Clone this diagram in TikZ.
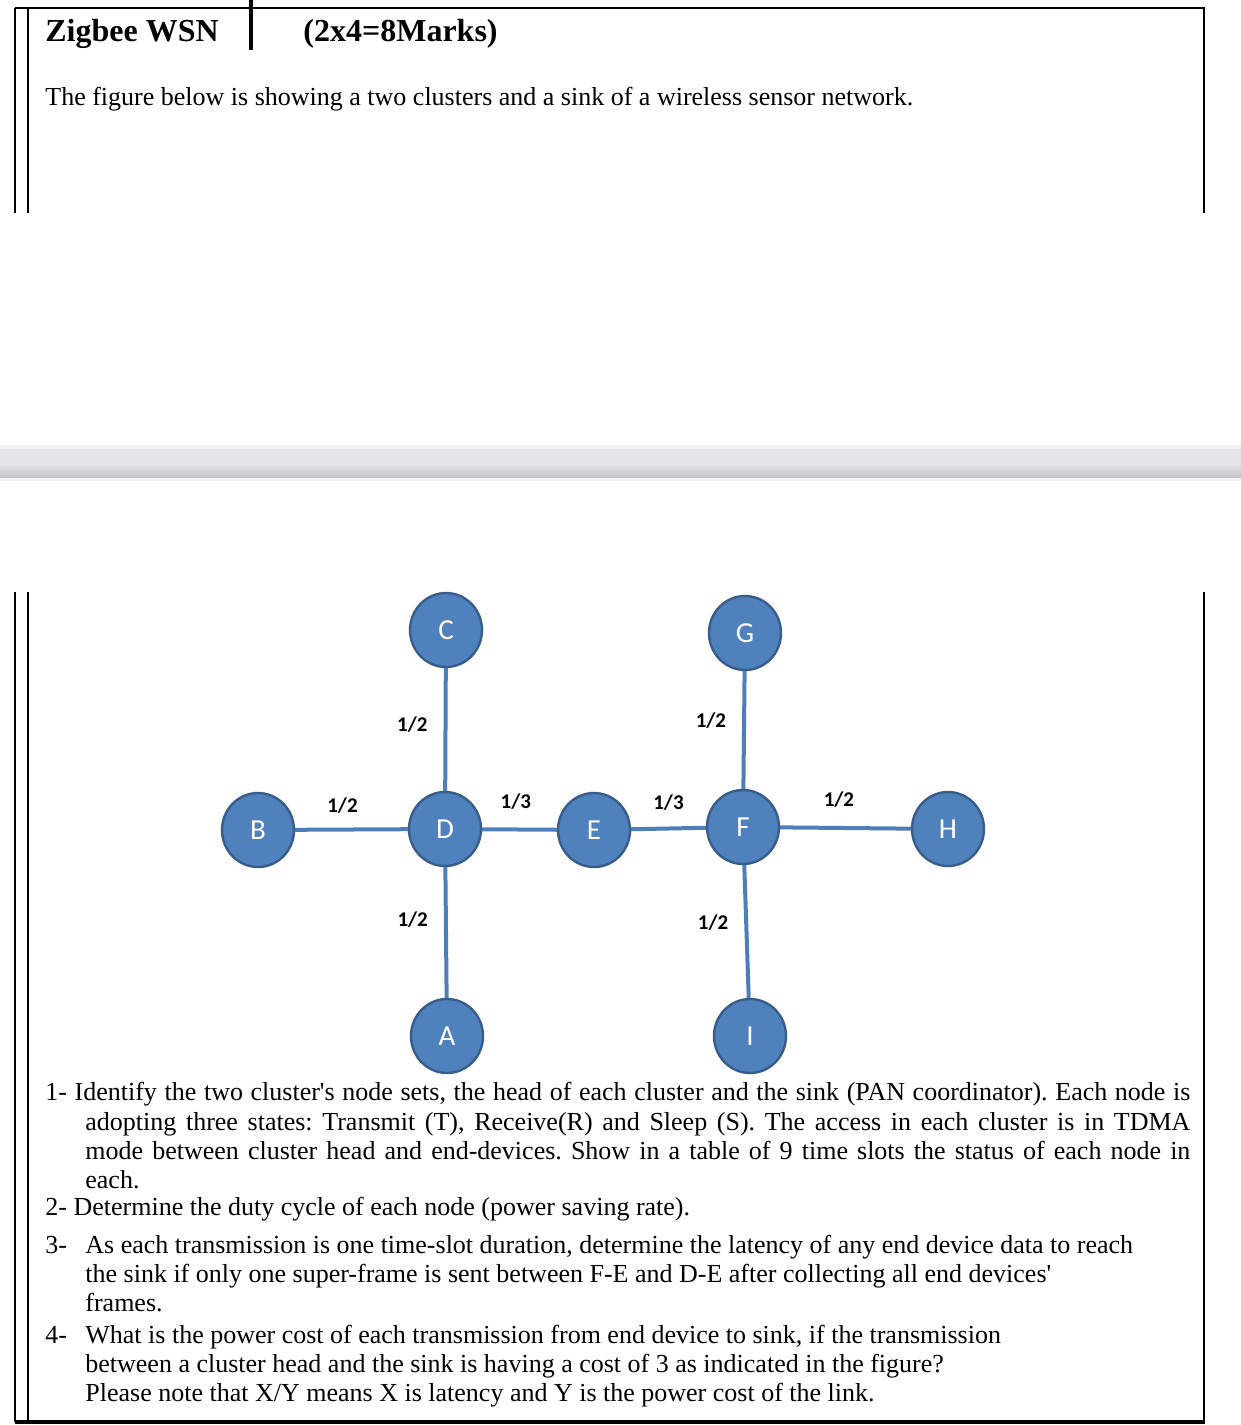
\documentclass[tikz,border=0pt]{standalone}
\usepackage{fontspec}
\setmainfont{Liberation Serif}[Ligatures=TeXOff]
\newfontfamily\labelfont{Carlito}
\usetikzlibrary{shapes.geometric}
\frenchspacing

\definecolor{moteblue}{RGB}{79,129,189}
\definecolor{moteedge}{RGB}{56,93,138}
\definecolor{linkblue}{RGB}{79,125,186}
\definecolor{bandgray}{RGB}{229,229,233}
\definecolor{banddark}{RGB}{198,198,202}
\definecolor{bandedge}{RGB}{242,242,242}

\begin{document}
\begin{tikzpicture}[
    x=0.5pt, y=-0.5pt,
    mote/.style={ellipse, draw=moteedge, line width=1.2pt, fill=moteblue, minimum width=36pt, minimum height=37pt, inner sep=0pt, text=white, font=\labelfont\fontsize{14.5}{14.5}\selectfont},
    link/.style={draw=linkblue, line width=2pt},
    cost/.style={font=\labelfont\bfseries\fontsize{10.5}{10.5}\selectfont, inner sep=0pt},
    pageline/.style={line width=1pt, black},
    qline/.style={anchor=base west, inner sep=0pt, font=\fontsize{13}{15}\selectfont}
]
\useasboundingbox[fill=white] (0,0) rectangle (1241,1425);

% upper page
\draw[pageline] (15,8) -- (15,213);
\draw[pageline] (28,8) -- (28,213);
\draw[pageline] (15,8) -- (1204,8) -- (1204,213);
\draw[line width=2pt] (251,0) -- (251,50);
\node[anchor=base west, inner sep=0pt, font=\bfseries\fontsize{16}{16}\selectfont] (title) at (45,41) {Zigbee WSN};
\node[anchor=base west, inner sep=0pt, font=\bfseries\fontsize{16}{16}\selectfont] (marks) at (303,41) {(2x4=8Marks)};
\node[qline] (intro) at (45,105) {The figure below is showing a two clusters and a sink of a wireless sensor network.};

% gap between the pages
\fill[bandedge] (0,445) rectangle (1241,481);
\shade[top color=bandgray, bottom color=banddark, middle color=bandgray] (0,449) rectangle (1241,477);

% lower page
\draw[pageline] (15,592) -- (15,1422);
\draw[pageline] (28,592) -- (28,1422);
\draw[pageline] (1204,592) -- (1204,1422);
\draw[line width=1.6pt] (15,1422) -- (1205,1422);

% sensor network
\node[mote] (C) at (446,630) {C};
\node[mote] (G) at (745,633) {G};
\node[mote] (B) at (258,830) {B};
\node[mote] (D) at (445,829) {D};
\node[mote] (E) at (594,830) {E};
\node[mote] (F) at (743,827) {F};
\node[mote] (H) at (948,829) {H};
\node[mote] (A) at (447,1036) {A};
\node[mote] (I) at (750,1036) {I};

\draw[link] (C) -- node[cost, pos=0.46, left=8pt] (wCD) {1/2} (D);
\draw[link] (B) -- node[cost, pos=0.42, above=7pt] (wBD) {1/2} (D);
\draw[link] (D) -- node[cost, pos=0.45, above=9pt] (wDE) {1/3} (E);
\draw[link] (E) -- node[cost, pos=0.5, above=8pt] (wEF) {1/3} (F);
\draw[link] (F) -- node[cost, pos=0.45, above=9pt] (wFH) {1/2} (H);
\draw[link] (G) -- node[cost, pos=0.42, left=8pt] (wGF) {1/2} (F);
\draw[link] (D) -- node[cost, pos=0.4, left=8pt] (wDA) {1/2} (A);
\draw[link] (F) -- node[cost, pos=0.43, left=8pt] (wFI) {1/2} (I);

% questions
\node[qline] (q1a) at (45,1100) {\makebox[572.5pt][s]{1- Identify the two cluster's node sets, the head of each cluster and the sink (PAN coordinator). Each node is}};
\node[qline] (q1b) at (85,1130) {\makebox[552.5pt][s]{adopting three states: Transmit (T), Receive(R) and Sleep (S). The access in each cluster is in TDMA}};
\node[qline] (q1c) at (85,1159) {\makebox[552.5pt][s]{mode between cluster head and end-devices. Show in a table of 9 time slots the status of each node in}};
\node[qline] (q1d) at (85,1188) {each.};
\node[qline] (q2) at (45,1215) {2- Determine the duty cycle of each node (power saving rate).};
\node[qline] (n3) at (45,1253) {3-};
\node[qline] (q3a) at (85,1253) {As each transmission is one time-slot duration, determine the latency of any end device data to reach};
\node[qline] (q3b) at (85,1282) {the sink if only one super-frame is sent between F-E and D-E after collecting all end devices'};
\node[qline] (q3c) at (85,1311) {frames.};
\node[qline] (n4) at (45,1343) {4-};
\node[qline] (q4a) at (85,1343) {What is the power cost of each transmission from end device to sink, if the transmission};
\node[qline] (q4b) at (85,1372) {between a cluster head and the sink is having a cost of 3 as indicated in the figure?};
\node[qline] (q4c) at (85,1401) {Please note that X/Y means X is latency and Y is the power cost of the link.};
\end{tikzpicture}
\end{document}
